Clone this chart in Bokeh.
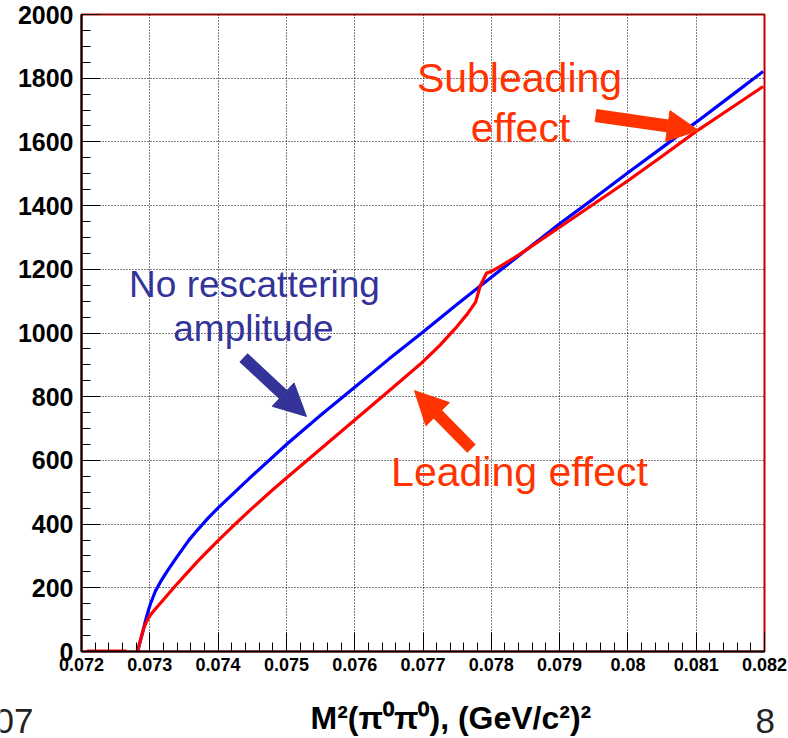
from bokeh.plotting import figure
from bokeh.layouts import column
from bokeh.models import Range1d, FixedTicker, Label, Arrow, NormalHead, Span
from bokeh.embed import file_html
from bokeh.resources import INLINE
import numpy as np

# ---------------- data ----------------
x_ticks = [0.072, 0.073, 0.074, 0.075, 0.076, 0.077, 0.078, 0.079, 0.080, 0.081, 0.082]
x_tick_labels = ["0.072", "0.073", "0.074", "0.075", "0.076", "0.077", "0.078", "0.079", "0.08", "0.081", "0.082"]
y_ticks = [0, 200, 400, 600, 800, 1000, 1200, 1400, 1600, 1800, 2000]
y_tick_labels = ["0", "200", "400", "600", "800", "1000", "1200", "1400", "1600", "1800", "2000"]

# "No rescattering amplitude" (blue)
blue_x = [0.07282, 0.072864, 0.072903, 0.072937, 0.072971, 0.07301, 0.073083, 0.07316, 0.07326,
          0.0734, 0.07357, 0.0737, 0.07385, 0.074, 0.0745, 0.075, 0.0755, 0.076, 0.0765, 0.077, 0.0775,
          0.078, 0.0785, 0.079, 0.0795, 0.080, 0.0805, 0.081, 0.0815, 0.08198]
blue_y = [0, 35, 66, 97, 123, 150, 190, 220, 254,
          298, 349, 382, 418, 451, 552, 650, 742, 830, 918, 1003, 1090,
          1175, 1259, 1343, 1422, 1503, 1582, 1662, 1743, 1821]

# with rescattering (red)
red_x = [0.07282, 0.072874, 0.072912, 0.07296, 0.07301, 0.0731, 0.07318, 0.07335, 0.0735,
         0.0737, 0.0738, 0.074, 0.0742, 0.0745, 0.0748, 0.075, 0.0755, 0.076, 0.0765, 0.077,
         0.07725, 0.0775, 0.07765, 0.07777, 0.07784, 0.07793, 0.07801, 0.07813, 0.07843, 0.079,
         0.0795, 0.080, 0.0805, 0.081, 0.0815, 0.08198]
red_y = [0, 45, 74, 97, 115, 138, 158, 200, 236,
         283, 305, 348, 390, 450, 508, 545, 636, 727, 818, 910,
         962, 1021, 1060, 1097, 1149, 1188, 1194, 1209, 1249, 1332,
         1405, 1478, 1555, 1633, 1705, 1774]

red_flat_x = [0.07208, 0.07266]
red_flat_y = [0, 0]

FONT = "Liberation Sans"
BLUE_T = "#333399"
RED_T = "#ff3300"

p = figure(width=788, height=690,
           x_range=Range1d(0.072, 0.082), y_range=Range1d(0, 2000),
           output_backend="svg", toolbar_location=None,
           min_border_left=81, min_border_right=24, min_border_top=14, min_border_bottom=39)
p.frame_align = False
p.background_fill_color = "white"
p.border_fill_color = "white"
p.outline_line_color = "#c00000"
p.outline_line_width = 2

# ticks
x_minor = [round(v, 5) for v in np.arange(0.072, 0.08201, 0.0002)]
y_minor = list(range(0, 2001, 50))
p.xaxis.ticker = FixedTicker(ticks=x_ticks, minor_ticks=x_minor)
p.yaxis.ticker = FixedTicker(ticks=y_ticks, minor_ticks=y_minor)
p.xaxis.major_label_overrides = {t: s for t, s in zip(x_ticks, x_tick_labels)}
p.yaxis.major_label_overrides = {t: s for t, s in zip(y_ticks, y_tick_labels)}

for ax in (p.xaxis, p.yaxis):
    ax.axis_line_color = "black"
    ax.axis_line_width = 2
    ax.major_tick_in = 19
    ax.major_tick_out = 0
    ax.minor_tick_in = 9
    ax.minor_tick_out = 0
    ax.major_tick_line_color = "black"
    ax.minor_tick_line_color = "black"
    ax.major_tick_line_width = 1
    ax.minor_tick_line_width = 1
    ax.major_label_text_font = FONT
    ax.major_label_text_font_style = "bold"
    ax.major_label_text_color = "black"
p.xaxis.major_label_text_font_size = "18px"
p.xaxis.major_label_standoff = 6
p.yaxis.major_label_text_font_size = "25px"
p.yaxis.major_label_standoff = 8

for g in (p.xgrid, p.ygrid):
    g.grid_line_color = "black"
    g.grid_line_width = 1
    g.grid_line_dash = "1 2"

p.add_layout(Span(location=2000, dimension="width", line_color="#222222", line_width=1))

# curves
p.line(red_flat_x, red_flat_y, line_color="#ff0000", line_width=4)
p.line(blue_x, blue_y, line_color="#0000ff", line_width=3.2)
p.line(red_x, red_y, line_color="#ff0000", line_width=3.2)

# annotations
def txt(x, y, s, size, color):
    p.add_layout(Label(x=x, y=y, text=s, text_align="center", text_baseline="alphabetic",
                       text_font=FONT, text_font_size=size, text_color=color))

txt(0.074533, 1151, "No rescattering", "37px", BLUE_T)
txt(0.074518, 1015, "amplitude", "37px", BLUE_T)
txt(0.078413, 1800, "Subleading", "41px", RED_T)
txt(0.078428, 1643, "effect", "41px", RED_T)
txt(0.078413, 565, "Leading effect", "41px", RED_T)

p.add_layout(Arrow(end=NormalHead(size=32, fill_color=BLUE_T, line_color=BLUE_T),
                   x_start=0.074372, y_start=923, x_end=0.075294, y_end=738,
                   line_color=BLUE_T, line_width=12))
p.add_layout(Arrow(end=NormalHead(size=33, fill_color=RED_T, line_color=RED_T),
                   x_start=0.077710, y_start=637, x_end=0.076876, y_end=819,
                   line_color=RED_T, line_width=12))
p.add_layout(Arrow(end=NormalHead(size=31, fill_color=RED_T, line_color=RED_T),
                   x_start=0.079526, y_start=1683, x_end=0.081034, y_end=1636,
                   line_color=RED_T, line_width=13))

# strip below the plot: axis title and slide remnants
q = figure(width=788, height=48, x_range=Range1d(0, 788), y_range=Range1d(738, 690),
           output_backend="svg", toolbar_location=None, x_axis_type=None, y_axis_type=None,
           min_border_left=0, min_border_right=0, min_border_top=0, min_border_bottom=0)
q.frame_align = False
q.grid.visible = False
q.outline_line_color = None
q.background_fill_color = "white"
q.border_fill_color = "white"

q.add_layout(Label(x=310, y=717, text="M\u00b2(\u03c0\u2070\u03c0\u2070), (GeV/c\u00b2)\u00b2",
                   text_align="left", text_baseline="alphabetic", text_font=FONT,
                   text_font_style="bold", text_font_size="32px", text_color="black"))
q.add_layout(Label(x=-6, y=720, text="07", text_align="left", text_baseline="alphabetic",
                   text_font=FONT, text_font_size="35px", text_color="#222222"))
q.add_layout(Label(x=755, y=720, text="8", text_align="left", text_baseline="alphabetic",
                   text_font=FONT, text_font_size="35px", text_color="#222222"))

layout = column(p, q, spacing=0)
open("out.html", "w").write(file_html(layout, INLINE))
